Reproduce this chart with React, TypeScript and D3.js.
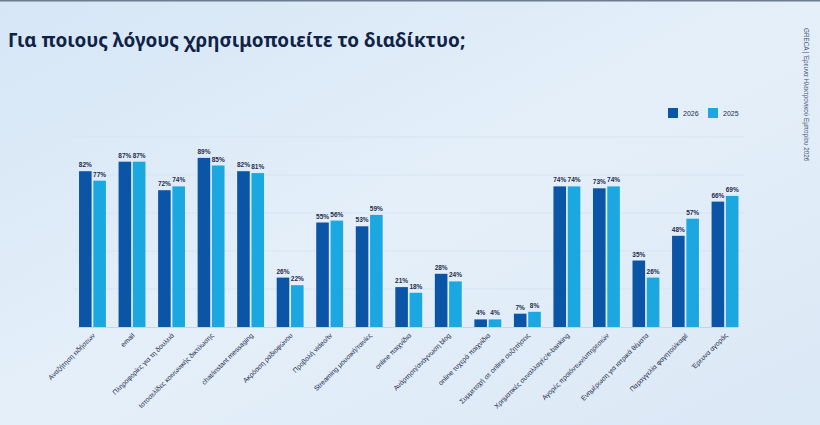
import { useMemo } from "react";
import * as d3 from "d3";

const categories = [
  "Αναζήτηση ειδήσεων",
  "email",
  "Πληροφορίες για τη δουλειά",
  "Ιστοσελίδες κοινωνικής δικτύωσης",
  "chat/instant messaging",
  "Ακρόαση ραδιοφώνου",
  "Προβολή video/tv",
  "Streaming μουσική/ταινίες",
  "online παιχνίδια",
  "Ανάρτηση/ανάγνωση blog",
  "online τυχερά παιχνίδια",
  "Συμμετοχή σε online συζητήσεις",
  "Χρηματικές συναλλαγές/e-banking",
  "Αγορές προϊόντων/υπηρεσιών",
  "Ενημέρωση για ιατρικά θέματα",
  "Παραγγελία φαγητού/καφέ",
  "Έρευνα αγοράς",
];

const values2026 = [82, 87, 72, 89, 82, 26, 55, 53, 21, 28, 4, 7, 74, 73, 35, 48, 66];
const values2025 = [77, 87, 74, 85, 81, 22, 56, 59, 18, 24, 4, 8, 74, 74, 26, 57, 69];

const seriesNames = ["2026", "2025"];
const gridTicks = [20, 40, 60, 80, 100];

const WIDTH = 820;
const HEIGHT = 425;
const BASELINE = 327;
const TOP = 137; // where 100% sits
const LEFT = 72.7;
const RIGHT = 744.8;

const colors = ["#0a55a6", "#1ba8e0"];
const textColor = "#1f2d4d";

export default function App() {
  const x = useMemo(
    () => d3.scaleBand<string>().domain(categories).range([LEFT, RIGHT]).paddingInner(0.32).paddingOuter(0.16),
    []
  );
  const inner = useMemo(
    () => d3.scaleBand<string>().domain(seriesNames).range([0, x.bandwidth()]).paddingInner(0.12),
    [x]
  );
  const y = d3.scaleLinear().domain([0, 100]).range([BASELINE, TOP]);

  const series = [values2026, values2025];

  return (
    <svg width={WIDTH} height={HEIGHT} style={{ display: "block", position: "fixed", left: 0, top: 0 }}>
      <defs>
        <linearGradient id="bg" x1="0" y1="0" x2="1" y2="1">
          <stop offset="0" stopColor="#d6e6f6" />
          <stop offset="0.5" stopColor="#e4eff9" />
          <stop offset="1" stopColor="#dbe8f5" />
        </linearGradient>
      </defs>
      <rect width={WIDTH} height={HEIGHT} fill="url(#bg)" />
      <rect width={WIDTH} height={1.5} fill="#6d7c8e" />

      <text
        x={8}
        y={47}
        fontFamily="'Noto Sans', sans-serif"
        fontWeight={700}
        fontSize={18.9}
        fill="#0f2347"
      >
        Για ποιους λόγους χρησιμοποιείτε το διαδίκτυο;
      </text>

      <text
        transform="translate(804,28) rotate(90)"
        fontFamily="'Liberation Sans', sans-serif"
        fontSize={6.3}
        fill="#4a5672"
      >
        GRECA | Έρευνα Ηλεκτρονικού Εμπορίου 2026
      </text>

      {/* legend */}
      {seriesNames.map((s, i) => (
        <g key={s} transform={`translate(${668 + i * 40},108)`}>
          <rect width={10} height={10} fill={colors[i]} />
          <text x={15} y={8.2} fontSize={7} fontFamily="'Liberation Sans', sans-serif" fill={textColor}>
            {s}
          </text>
        </g>
      ))}

      {/* gridlines */}
      {gridTicks.map((t) => (
        <line key={t} x1={LEFT} x2={RIGHT} y1={y(t)} y2={y(t)} stroke="#d3e1f0" strokeWidth={0.7} />
      ))}
      <line x1={LEFT + 5} x2={RIGHT - 6} y1={BASELINE + 0.5} y2={BASELINE + 0.5} stroke="#c3d6ea" strokeWidth={1} />

      {categories.map((c, ci) => (
        <g key={c} transform={`translate(${x(c)},0)`}>
          {series.map((vals, si) => {
            const bx = inner(seriesNames[si]) as number;
            const v = vals[ci];
            return (
              <g key={si}>
                <rect
                  x={bx}
                  y={y(v)}
                  width={inner.bandwidth()}
                  height={BASELINE - y(v)}
                  fill={colors[si]}
                />
                <text
                  x={bx + inner.bandwidth() / 2}
                  y={y(v) - 4}
                  textAnchor="middle"
                  fontSize={6.5}
                  fontWeight={600}
                  fontFamily="'Liberation Sans', sans-serif"
                  fill={textColor}
                >
                  {v}%
                </text>
              </g>
            );
          })}
          <text
            transform={`translate(${x.bandwidth() / 2 + 3},${BASELINE + 9}) rotate(-45)`}
            textAnchor="end"
            fontSize={6.8}
            fontFamily="'Liberation Sans', sans-serif"
            fill={textColor}
          >
            {c}
          </text>
        </g>
      ))}
    </svg>
  );
}
